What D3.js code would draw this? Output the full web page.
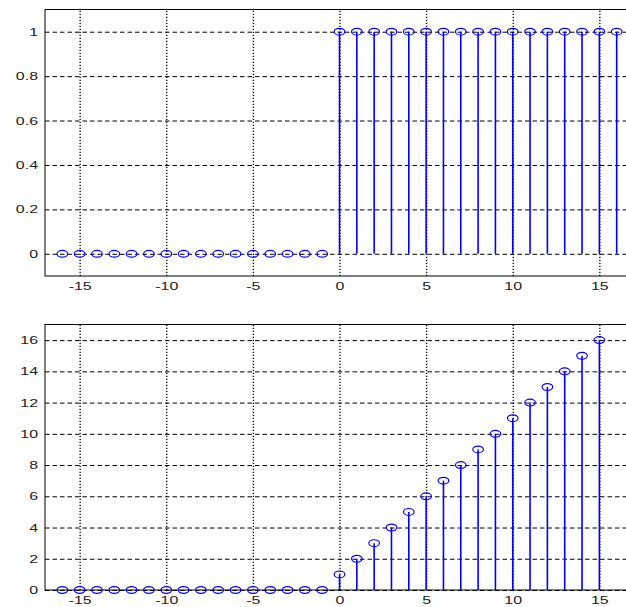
<!DOCTYPE html>
<html>
<head>
<meta charset="utf-8">
<script src="https://cdn.jsdelivr.net/npm/d3@7"></script>
<style>
    body { margin: 0; background: #fff; }
    svg { display: block; }
    .tick text { font-family: "Liberation Sans", Arial, sans-serif; font-size: 11px; fill: #222; }
</style>
</head>
<body>
<div id="chart"></div>
<script>
// step sequence u[n]
const nTop = [-16, -15, -14, -13, -12, -11, -10, -9, -8, -7, -6, -5, -4, -3, -2, -1,
    0, 1, 2, 3, 4, 5, 6, 7, 8, 9, 10, 11, 12, 13, 14, 15, 16];
const uTop = [0, 0, 0, 0, 0, 0, 0, 0, 0, 0, 0, 0, 0, 0, 0, 0,
    1, 1, 1, 1, 1, 1, 1, 1, 1, 1, 1, 1, 1, 1, 1, 1, 1];

// ramp sequence (n+1)u[n]
const nBottom = [-16, -15, -14, -13, -12, -11, -10, -9, -8, -7, -6, -5, -4, -3, -2, -1,
    0, 1, 2, 3, 4, 5, 6, 7, 8, 9, 10, 11, 12, 13, 14, 15];
const rBottom = [0, 0, 0, 0, 0, 0, 0, 0, 0, 0, 0, 0, 0, 0, 0, 0,
    1, 2, 3, 4, 5, 6, 7, 8, 9, 10, 11, 12, 13, 14, 15, 16];

const xTicks = [-15, -10, -5, 0, 5, 10, 15];
const yTicksTop = [0, 0.2, 0.4, 0.6, 0.8, 1];
const yTicksBottom = [0, 2, 4, 6, 8, 10, 12, 14, 16];

const W = 626, H = 607;
const stretch = 1.45; // the picture is squashed wider than tall
const fmt = (d) => String(d); // plain hyphen minus, like the original

const svg = d3.select("#chart").append("svg")
    .attr("width", W)
    .attr("height", H);

function stemPlot({ top, bottom, xs, ys, yDomain, yTicks, labelPad }) {
    const left = 45, right = 634;
    const x = d3.scaleLinear().domain([-17, 17]).range([left, right]);
    const y = d3.scaleLinear().domain(yDomain).range([bottom, top]);
    const g = svg.append("g");

    // horizontal grid + y labels
    const yAxis = g.append("g")
        .attr("transform", `translate(${left},0)`)
        .call(d3.axisLeft(y).tickValues(yTicks).tickFormat(fmt)
            .tickSizeInner(-(right - left)).tickSizeOuter(0).tickPadding(0));
    yAxis.select(".domain").remove();
    yAxis.selectAll(".tick line")
        .attr("stroke", "#000")
        .attr("stroke-dasharray", "4.5,3");
    yAxis.selectAll(".tick text")
        .attr("x", -7 / stretch)
        .attr("transform", `scale(${stretch},1)`);

    // vertical grid + x labels
    const xAxis = g.append("g")
        .attr("transform", `translate(0,${bottom})`)
        .call(d3.axisBottom(x).tickValues(xTicks).tickFormat(fmt)
            .tickSizeInner(-(bottom - top)).tickSizeOuter(0).tickPadding(labelPad));
    xAxis.select(".domain").remove();
    xAxis.selectAll(".tick line")
        .attr("stroke", "#000")
        .attr("stroke-width", 1.3)
        .attr("stroke-dasharray", "1.3,1.7");
    // keep labels centred on the tick after the horizontal scale
    xAxis.selectAll(".tick text").each(function () {
        const t = d3.select(this);
        const w = this.getComputedTextLength();
        t.attr("text-anchor", "start")
            .attr("x", -w / 2)
            .attr("transform", `scale(${stretch},1)`);
    });

    // frame
    g.append("rect")
        .attr("x", left)
        .attr("y", top)
        .attr("width", right - left)
        .attr("height", bottom - top)
        .attr("fill", "none")
        .attr("stroke", "#000")
        .attr("stroke-width", 1);

    const data = xs.map((n, i) => ({ n, v: ys[i] }));

    g.selectAll("line.stem")
        .data(data)
        .join("line")
        .attr("class", "stem")
        .attr("x1", (d) => x(d.n))
        .attr("x2", (d) => x(d.n))
        .attr("y1", y(0))
        .attr("y2", (d) => y(d.v))
        .attr("stroke", "#0000ff")
        .attr("stroke-width", 1.6);

    g.selectAll("ellipse.mark")
        .data(data)
        .join("ellipse")
        .attr("class", "mark")
        .attr("cx", (d) => x(d.n))
        .attr("cy", (d) => y(d.v))
        .attr("rx", 5.3)
        .attr("ry", 3.4)
        .attr("fill", "none")
        .attr("stroke", "#0000ff")
        .attr("stroke-width", 1.2);
}

stemPlot({ top: 9.5, bottom: 276, xs: nTop, ys: uTop, yDomain: [-0.1, 1.1], yTicks: yTicksTop, labelPad: 6 });
stemPlot({ top: 324.5, bottom: 590, xs: nBottom, ys: rBottom, yDomain: [0, 17], yTicks: yTicksBottom, labelPad: 6 });
</script>
</body>
</html>
